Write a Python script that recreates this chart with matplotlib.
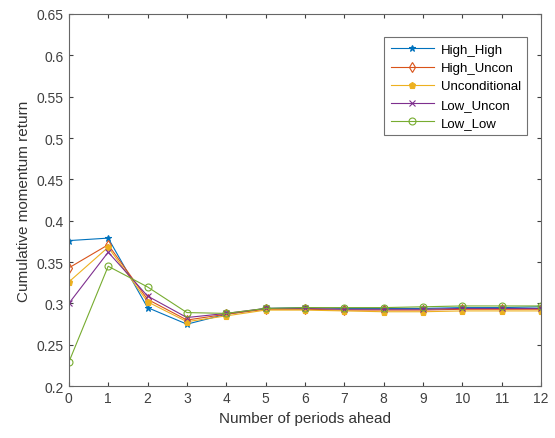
import matplotlib
matplotlib.use("Agg")
import matplotlib.pyplot as plt

plt.rcParams['font.family'] = ['Liberation Sans', 'DejaVu Sans']

periods = list(range(13))
high_high = [0.376, 0.379, 0.295, 0.275, 0.287, 0.294, 0.295, 0.294, 0.294, 0.294, 0.295, 0.295, 0.296]
high_uncon = [0.343, 0.371, 0.305, 0.280, 0.287, 0.293, 0.293, 0.292, 0.292, 0.292, 0.293, 0.293, 0.293]
unconditional = [0.326, 0.368, 0.302, 0.278, 0.285, 0.292, 0.292, 0.291, 0.290, 0.290, 0.291, 0.291, 0.291]
low_uncon = [0.300, 0.362, 0.309, 0.283, 0.288, 0.294, 0.294, 0.293, 0.293, 0.293, 0.294, 0.294, 0.294]
low_low = [0.229, 0.345, 0.320, 0.289, 0.288, 0.294, 0.295, 0.295, 0.295, 0.296, 0.297, 0.297, 0.297]

series = [
    ("High_High", high_high, (0, 0.447, 0.741), '*'),
    ("High_Uncon", high_uncon, (0.85, 0.325, 0.098), 'd'),
    ("Unconditional", unconditional, (0.929, 0.694, 0.125), 'p'),
    ("Low_Uncon", low_uncon, (0.494, 0.184, 0.556), 'x'),
    ("Low_Low", low_low, (0.466, 0.674, 0.188), 'o'),
]

fig = plt.figure(figsize=(5.55, 4.39), dpi=100)
ax = fig.add_axes([0.124, 0.118, 0.851, 0.848])

for name, vals, col, mk in series:
    ax.plot(periods, vals, color=col, marker=mk, markersize=5, linewidth=0.8,
            markerfacecolor='none' if mk in ('o', 'd') else col, markeredgewidth=0.8,
            label=name)

ax.set_xlim(0, 12)
ax.set_ylim(0.2, 0.65)
ax.set_xticks(periods)
ax.set_yticks([0.2, 0.25, 0.3, 0.35, 0.4, 0.45, 0.5, 0.55, 0.6, 0.65])
ax.set_yticklabels(['0.2', '0.25', '0.3', '0.35', '0.4', '0.45', '0.5', '0.55', '0.6', '0.65'])
ax.tick_params(direction='in', top=True, right=True, labelsize=10, colors='0.25', length=3)
for s in ax.spines.values():
    s.set_color('0.4')
    s.set_linewidth(0.8)
ax.set_xlabel("Number of periods ahead", fontsize=11, color='0.2')
ax.set_ylabel("Cumulative momentum return", fontsize=11, color='0.2')

leg = ax.legend(loc='upper right', bbox_to_anchor=(0.985, 0.955), fontsize=9.5, fancybox=False,
                edgecolor='0.3', handlelength=3.3, borderpad=0.5, labelspacing=0.45,
                handletextpad=0.5)
leg.get_frame().set_linewidth(0.8)

fig.savefig("out.png", dpi=100)
